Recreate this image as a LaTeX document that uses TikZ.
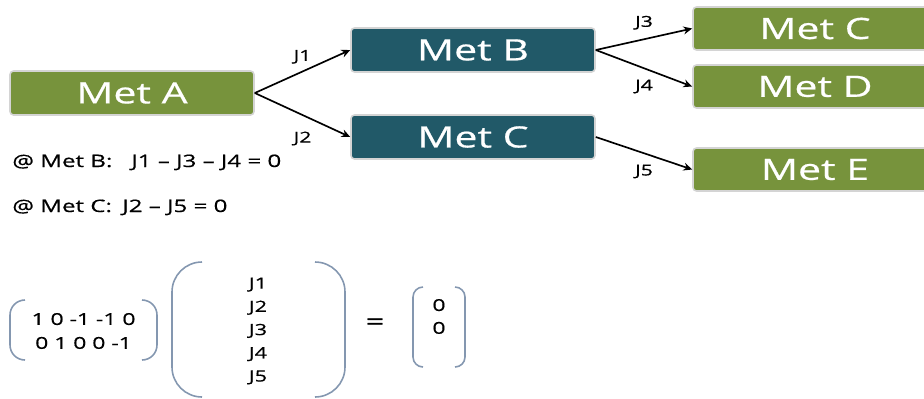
\documentclass[tikz,border=0pt]{standalone}
\usepackage{fontspec}
\setmainfont{Open Sans}[FakeStretch=1.4, FakeBold=0.6]
\usepackage{tikz}
\usetikzlibrary{arrows.meta,positioning,calc}
\definecolor{verdeol}{HTML}{77933C}
\definecolor{azulpet}{HTML}{215968}
\definecolor{cinzaazul}{HTML}{8497B0}
\definecolor{borda}{HTML}{D4D4D4}

% parenteses em volta de um no vazio: #1 = no, #2 = comprimento do gancho
\newcommand\parenteses[2]{%
  \draw[colchete, rounded corners=#2] ([xshift=#2]#1.north west) -- (#1.north west)
    -- (#1.south west) -- ([xshift=#2]#1.south west);
  \draw[colchete, rounded corners=#2] ([xshift=-#2]#1.north east) -- (#1.north east)
    -- (#1.south east) -- ([xshift=-#2]#1.south east);}

\begin{document}
\begin{tikzpicture}[
  caixa/.style={draw=borda, line width=0.9pt, rounded corners=2pt,
                minimum width=4.88cm, minimum height=0.88cm, text=white,
                font=\fontsize{16.7}{20}\selectfont, inner sep=0pt},
  verde/.style={caixa, fill=verdeol},
  azul/.style={caixa, fill=azulpet},
  seta/.style={-{Stealth[length=5pt,width=4.5pt]}, black, line width=0.95pt},
  rotulo/.style={font=\fontsize{8.6}{10}\selectfont, inner sep=1pt},
  texto/.style={font=\fontsize{9.8}{12}\selectfont, inner sep=0pt},
  moldura/.style={inner sep=0pt, outer sep=0pt},
  colchete/.style={cinzaazul, line width=0.9pt}
]
\useasboundingbox (0,0) rectangle (18.48,-7.96);

% rede de metabolitos
\node[verde] (metA) at (2.64,-1.86) {Met A};
\node[azul]  (metB) at (9.46,-1.0)  {Met B};
\node[azul]  (metC1) at (9.46,-2.74) {Met C};
\node[verde, minimum height=0.86cm] (metC2) at (16.3,-0.57) {Met C};
\node[verde, minimum height=0.86cm] (metD) at (16.3,-1.73) {Met D};
\node[verde, minimum height=0.86cm] (metE) at (16.3,-3.39) {Met E};

\draw[seta] (metA.east) -- node[rotulo, above=3pt] {J1} (metB.west);
\draw[seta] (metA.east) -- node[rotulo, below=8pt] {J2} (metC1.west);
\draw[seta] (metB.east) -- node[rotulo, above=4pt] {J3} (metC2.west);
\draw[seta] (metB.east) -- node[rotulo, below=5pt] {J4} (metD.west);
\draw[seta] (metC1.east) -- node[rotulo, below=5pt] {J5} (metE.west);

% balancos
\node[texto, anchor=base west] (balB) at (0.24,-3.34)
  {@ Met B:\hspace{1.1em}J1 -- J3 -- J4 = 0};
\node[texto, anchor=base west] (balC) at (0.24,-4.24)
  {@ Met C:\hspace{0.6em}J2 -- J5 = 0};

% S * J = 0
\node[moldura, minimum width=2.94cm, minimum height=1.2cm] (molS) at (1.67,-6.6) {};
\node[moldura, minimum width=3.46cm, minimum height=2.7cm] (molJ) at (5.17,-6.59) {};
\node[moldura, minimum width=1.04cm, minimum height=1.6cm] (molZ) at (8.78,-6.54) {};
\parenteses{molS}{0.3cm}
\parenteses{molJ}{0.6cm}
\parenteses{molZ}{0.2cm}

\node[texto, align=center, font=\fontsize{9.3}{13.6}\selectfont] (matS) at (1.67,-6.62)
  {1 0 -1 -1 0\\0 1 0 0 -1};
\node[texto, align=center, font=\fontsize{8.8}{13.2}\selectfont] (vecJ) at (5.16,-6.62)
  {J1\\J2\\J3\\J4\\J5};
\node[texto, font=\fontsize{13}{14}\selectfont] (igual) at (7.5,-6.48) {=};
\node[texto, align=center, font=\fontsize{9.3}{13}\selectfont] (vecZ) at (8.78,-6.33)
  {0\\0};
\end{tikzpicture}
\end{document}
